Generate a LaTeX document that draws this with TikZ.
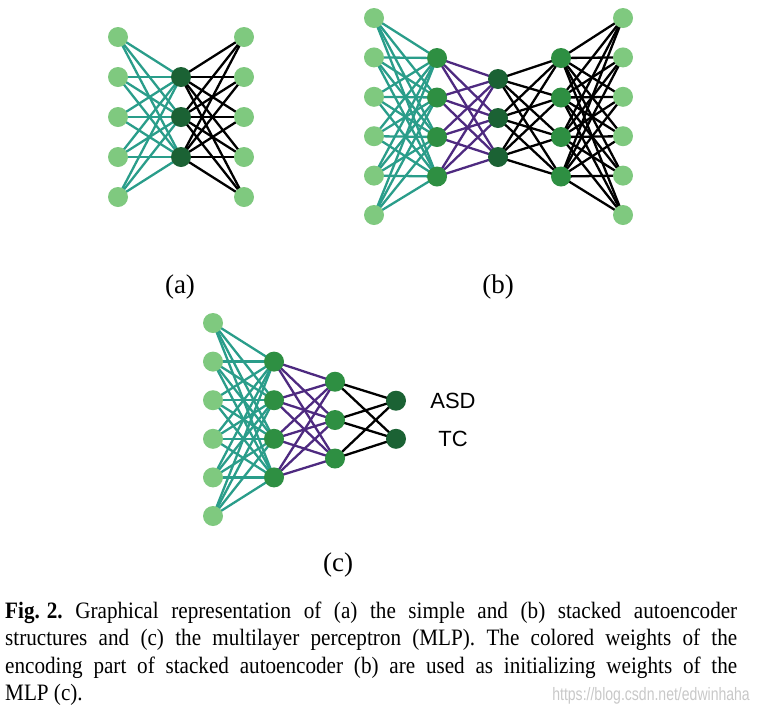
\documentclass[tikz,border=0pt]{standalone}
\usepackage{fontspec}
\setmainfont{Liberation Serif}
\newfontfamily\labsans{Liberation Sans}
\newfontfamily\capfont[FakeStretch=0.9]{Liberation Serif}
\usetikzlibrary{backgrounds}
\definecolor{lightg}{HTML}{7FC97F}
\definecolor{midg}{HTML}{2E8F42}
\definecolor{darkg}{HTML}{1B6234}
\definecolor{tealw}{HTML}{2A9D8A}
\definecolor{purw}{HTML}{4E2A80}
\definecolor{wmark}{HTML}{C8C8C8}
\begin{document}
\begin{tikzpicture}[x=1pt,y=-1pt,
  neu/.style={circle, minimum size=20pt, inner sep=0pt, draw=none},
  inn/.style={neu, fill=lightg},
  hid/.style={neu, fill=midg},
  cod/.style={neu, fill=darkg},
  wt/.style={line width=2.3pt},
  tw/.style={wt, draw=tealw},
  pw/.style={wt, draw=purw},
  bw/.style={wt, draw=black},
  sublabel/.style={font=\fontsize{27}{27}\selectfont, inner sep=0pt},
  outlabel/.style={font=\labsans\fontsize{22}{22}\selectfont, inner sep=0pt},
  capline/.style={anchor=base west, inner sep=0pt, font=\capfont\fontsize{23.5}{24}\selectfont}]
\useasboundingbox (0,0) rectangle (760,713);
% ---------- (a)
\foreach \i/\yy in {1/37,2/77,3/117,4/157,5/197} {
  \node[inn] (aL\i) at (118,\yy) {};
  \node[inn] (aR\i) at (244,\yy) {};
}
\foreach \i/\yy in {1/77,2/117,3/157}
  \node[cod] (aM\i) at (181,\yy) {};
\begin{scope}[on background layer]
\foreach \i in {1,...,5} \foreach \j in {1,2,3} {
  \draw[tw] (aL\i.center) -- (aM\j.center);
  \draw[bw] (aM\j.center) -- (aR\i.center);
}
\end{scope}
\node[sublabel] (la) at (180,287) {(a)};
% ---------- (b)
\foreach \i/\yy in {1/18,2/57.4,3/96.8,4/136.2,5/175.6,6/215} {
  \node[inn] (bL\i) at (374,\yy) {};
  \node[inn] (bR\i) at (623,\yy) {};
}
\foreach \i/\yy in {1/58,2/97.5,3/137,4/176.5} {
  \node[hid] (bA\i) at (437,\yy) {};
  \node[hid] (bD\i) at (561,\yy) {};
}
\foreach \i/\yy in {1/79,2/118,3/157}
  \node[cod] (bM\i) at (498,\yy) {};
\begin{scope}[on background layer]
\foreach \i in {1,...,6} \foreach \j in {1,...,4} {
  \draw[tw] (bL\i.center) -- (bA\j.center);
  \draw[bw] (bD\j.center) -- (bR\i.center);
}
\foreach \i in {1,...,4} \foreach \j in {1,2,3} {
  \draw[pw] (bA\i.center) -- (bM\j.center);
  \draw[bw] (bM\j.center) -- (bD\i.center);
}
\end{scope}
\node[sublabel] (lb) at (498,287) {(b)};
% ---------- (c)
\foreach \i/\yy in {1/323,2/361.6,3/400.2,4/438.8,5/477.4,6/516}
  \node[inn] (cL\i) at (213,\yy) {};
\foreach \i/\yy in {1/361.6,2/400.2,3/438.8,4/477.4}
  \node[hid] (cA\i) at (274,\yy) {};
\foreach \i/\yy in {1/381.7,2/420,3/458.5}
  \node[hid] (cB\i) at (335,\yy) {};
\foreach \i/\yy in {1/400.7,2/438.8}
  \node[cod] (cO\i) at (396,\yy) {};
\begin{scope}[on background layer]
\foreach \i in {1,...,6} \foreach \j in {1,...,4}
  \draw[tw] (cL\i.center) -- (cA\j.center);
\foreach \i in {1,...,4} \foreach \j in {1,2,3}
  \draw[pw] (cA\i.center) -- (cB\j.center);
\foreach \i in {1,2,3} \foreach \j in {1,2}
  \draw[bw] (cB\i.center) -- (cO\j.center);
\end{scope}
\node[outlabel] (asd) at (453,400.7) {ASD};
\node[outlabel] (tc) at (453,438.8) {TC};
\node[sublabel] (lc) at (338,565) {(c)};
% ---------- caption
\node[capline] (cap1) at (5,618) {\makebox[732pt][s]{\mbox{\textbf{Fig. 2.}} Graphical representation of (a) the simple and (b) stacked autoencoder}};
\node[capline] (cap2) at (5,645.5) {\makebox[732pt][s]{structures and (c) the multilayer perceptron (MLP). The colored weights of the}};
\node[capline] (cap3) at (5,673) {\makebox[732pt][s]{encoding part of stacked autoencoder (b) are used as initializing weights of the}};
\node[capline] (cap4) at (5,700.5) {MLP (c).};
\node[anchor=base east, inner sep=0pt, text=wmark] (wm) at (750,700) {\scalebox{0.78}[1]{\labsans\fontsize{18}{18}\selectfont https://blog.csdn.net/edwinhaha}};
\end{tikzpicture}
\end{document}
